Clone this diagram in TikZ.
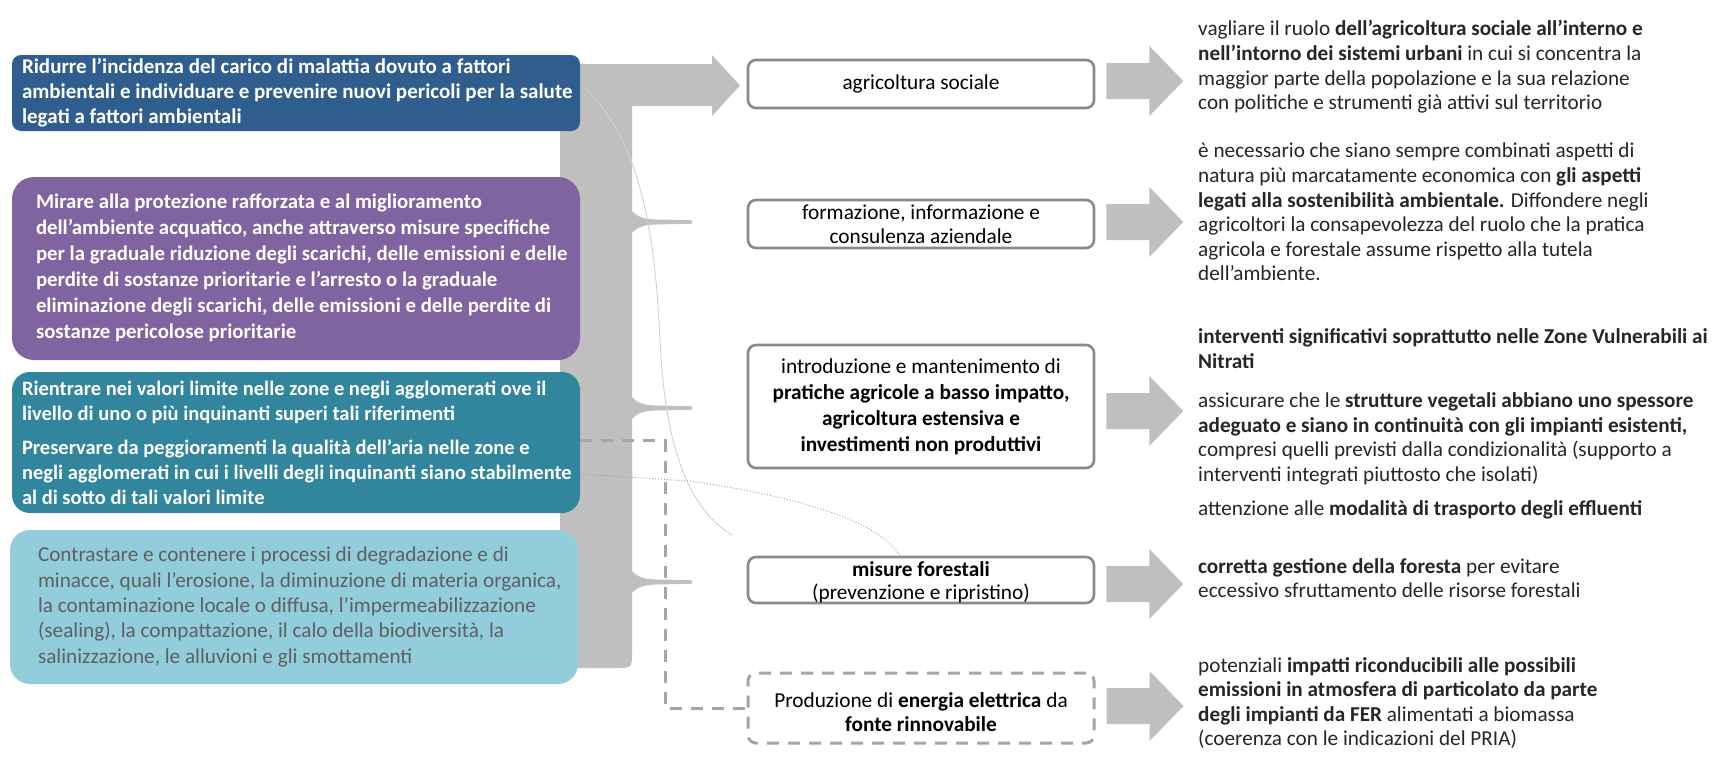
\documentclass[tikz,border=0pt]{standalone}
\usepackage{fontspec}
\setmainfont{Carlito}
\usetikzlibrary{calc}
\definecolor{boxA}{HTML}{2F5D8E}
\definecolor{boxB}{HTML}{8064A2}
\definecolor{boxC}{HTML}{31859C}
\definecolor{boxD}{HTML}{92CDDC}
\definecolor{arrowgray}{HTML}{BFBFBF}
\definecolor{bordergray}{HTML}{8A8A8A}
\definecolor{dashgray}{HTML}{A6A6A6}
\definecolor{txtdark}{HTML}{262626}
\definecolor{txtD}{HTML}{5F5F5F}
\tikzset{
  leftbox/.style={minimum width=568pt, inner sep=0pt, draw=none},
  lefttext/.style={anchor=west, inner sep=0pt, align=left, text=white,
    font=\fontsize{21}{25}\selectfont\bfseries},
  midbox/.style={draw=bordergray, line width=2.6pt, fill=white, rounded corners=8pt,
    minimum width=346pt, inner sep=0pt, align=center, text=black,
    font=\fontsize{21.3}{24.5}\selectfont},
  dashbox/.style={midbox, draw=dashgray, line width=3pt, dash pattern=on 12pt off 9pt},
  dashconn/.style={draw=dashgray, line width=3pt, dash pattern=on 12pt off 9pt},
  righttext/.style={anchor=north west, inner sep=0pt, align=left, text=txtdark,
    font=\fontsize{21.2}{24.6}\selectfont},
  pics/blockarr/.style={code={
    \fill[arrowgray] (0,-18) -- (43,-18) -- (43,-35) -- (77,0) -- (43,35) -- (43,18) -- (0,18) -- cycle;}},
  pics/spike/.style={code={
    \fill[arrowgray] (-2,-13) .. controls (6,-4) and (12,-2.6) .. (28,-2.4) -- (60,-1.7)
      -- (60,1.7) -- (28,2.4) .. controls (12,2.6) and (6,4) .. (-2,13) -- cycle;}},
}
\begin{document}
\begin{tikzpicture}[x=1pt,y=-1pt]
\useasboundingbox (0,0) rectangle (1715,771);
\fill[white] (0,0) rectangle (1715,771);

% gray brace with arrow
\fill[arrowgray] (560,64) -- (712,64) -- (712,55) -- (740,85.5) -- (712,116) -- (712,106)
  -- (632,106) -- (632,652) .. controls (632,668) .. (616,668) -- (560,668) -- cycle;
\pic at (632,222) {spike};
\pic at (632,408) {spike};
\pic at (632,582) {spike};

% thin decorative curve
\coordinate (cs1) at (584,87);
\coordinate (ce1) at (732,535);
\draw[color=black!18, line width=0.9pt] (cs1) .. controls (640,140) and (655,230) .. (660,340)
  .. controls (665,450) and (690,510) .. (ce1);

% left boxes
\node[leftbox, fill=boxA, rounded corners=9pt, minimum height=76pt] (lA) at (296,93) {};
\node[leftbox, fill=boxB, rounded corners=22pt, minimum height=183pt] (lB) at (296,268.5) {};
\node[leftbox, fill=boxC, rounded corners=18pt, minimum height=141pt] (lC) at (296,442.5) {};
\node[leftbox, fill=boxD, rounded corners=20pt, minimum height=154pt] (lD) at (294,607) {};

\node[lefttext] (tA) at ($(lA.west)+(10,0)$) {Ridurre l’incidenza del carico di malattia dovuto a fattori\\
ambientali e individuare e prevenire nuovi pericoli per la salute\\
legati a fattori ambientali};
\node[lefttext, font=\fontsize{20.8}{26}\selectfont\bfseries] (tB) at ($(lB.west)+(24,-1)$) {Mirare alla protezione rafforzata e al miglioramento\\
dell’ambiente acquatico, anche attraverso misure specifiche\\
per la graduale riduzione degli scarichi,  delle emissioni e delle\\
perdite di sostanze prioritarie e l’arresto o la graduale\\
eliminazione degli scarichi, delle emissioni e delle perdite di\\
sostanze pericolose prioritarie};
\node[lefttext, font=\fontsize{20.5}{25}\selectfont\bfseries] (tC) at ($(lC.west)+(10,0)$) {Rientrare nei valori limite nelle zone e negli agglomerati ove il\\
livello di uno o più inquinanti superi tali riferimenti\\[9pt]
Preservare da peggioramenti la qualità dell’aria nelle zone e\\
negli agglomerati in cui i livelli degli inquinanti siano stabilmente\\
al di sotto di tali valori limite};
\node[lefttext, text=txtD, font=\fontsize{21.2}{25.3}\selectfont] (tD) at ($(lD.west)+(28,0)$) {Contrastare e contenere i processi di degradazione e di\\
minacce, quali l’erosione, la diminuzione di materia organica,\\
la contaminazione locale o diffusa, l’impermeabilizzazione\\
(sealing), la compattazione, il calo della biodiversità, la\\
salinizzazione, le alluvioni e gli smottamenti};

% dotted decorative line
\coordinate (ds) at (580,474);
\draw[color=black!40, dotted, line width=0.9pt] (ds) -- (689,481) .. controls (790,495) and (880,520) .. (900,556);

% middle boxes
\node[midbox, minimum height=48pt] (m1) at (921,84) {agricoltura sociale};
\node[midbox, minimum height=48pt] (m2) at (921,224) {formazione, informazione e\\consulenza aziendale};
\node[midbox, minimum height=123pt, font=\fontsize{21.3}{26}\selectfont] (m3) at (921,406.5) {introduzione e mantenimento di\\
\textbf{pratiche agricole a basso impatto,}\\ \textbf{agricoltura estensiva e}\\ \textbf{investimenti non produttivi}};
\node[midbox, minimum height=46pt] (m4) at (921,580) {};
\node[anchor=center, inner sep=0pt, align=center, font=\fontsize{21.3}{23}\selectfont] (m4t) at ($(m4.center)+(0,2.5)$) {\textbf{misure forestali}\\(prevenzione e ripristino)};
\node[dashbox, minimum height=70pt] (m5) at (921,708) {};
\node[anchor=center, inner sep=0pt, align=center, font=\fontsize{21.3}{24}\selectfont] (m5t) at ($(m5.center)+(0,4)$) {Produzione di \textbf{energia elettrica} da\\ \textbf{fonte rinnovabile}};

% dashed connector
\draw[dashconn] ($(lC.east)+(0,-2)$) -- ++(85,0) |- (m5.west);

% right block arrows
\pic at ($(m1.east)+(11,-3)$) {blockarr};
\pic at ($(m2.east)+(11,-2)$) {blockarr};
\pic at ($(m3.east)+(11,4.5)$) {blockarr};
\pic at ($(m4.east)+(11,4)$) {blockarr};
\pic at ($(m5.east)+(11,-2)$) {blockarr};

% right texts
\node[righttext] (r1) at (1198,20.3) {vagliare il ruolo \textbf{dell’agricoltura sociale all’interno e}\\
\textbf{nell’intorno dei sistemi urbani} in cui si concentra la\\
maggior parte della popolazione e la sua relazione\\
con politiche e strumenti già attivi sul territorio};
\node[righttext] (r2) at (1198,143) {è necessario che siano sempre combinati aspetti di\\
natura più marcatamente economica con \textbf{gli aspetti}\\
\textbf{legati alla sostenibilità ambientale.} Diffondere negli\\
agricoltori la consapevolezza del ruolo che la pratica\\
agricola e forestale assume rispetto alla tutela\\
dell’ambiente.};
\node[righttext] (r3) at (1198,328.8) {\textbf{interventi significativi soprattutto nelle Zone Vulnerabili ai}\\
\textbf{Nitrati}\\[14.5pt]
assicurare che le \textbf{strutture vegetali abbiano uno spessore}\\
\textbf{adeguato e siano in continuità con gli impianti esistenti,}\\
compresi quelli previsti dalla condizionalità (supporto a\\
interventi integrati piuttosto che isolati)\\[9.5pt]
attenzione alle \textbf{modalità di trasporto degli effluenti}};
\node[righttext] (r4) at (1198,558) {\textbf{corretta gestione della foresta} per evitare\\
eccessivo sfruttamento delle risorse forestali};
\node[righttext] (r5) at (1198,657) {potenziali \textbf{impatti riconducibili alle possibili}\\
\textbf{emissioni in atmosfera di particolato da parte}\\
\textbf{degli impianti da FER} alimentati a biomassa\\
(coerenza con le indicazioni del PRIA)};
\end{tikzpicture}
\end{document}
